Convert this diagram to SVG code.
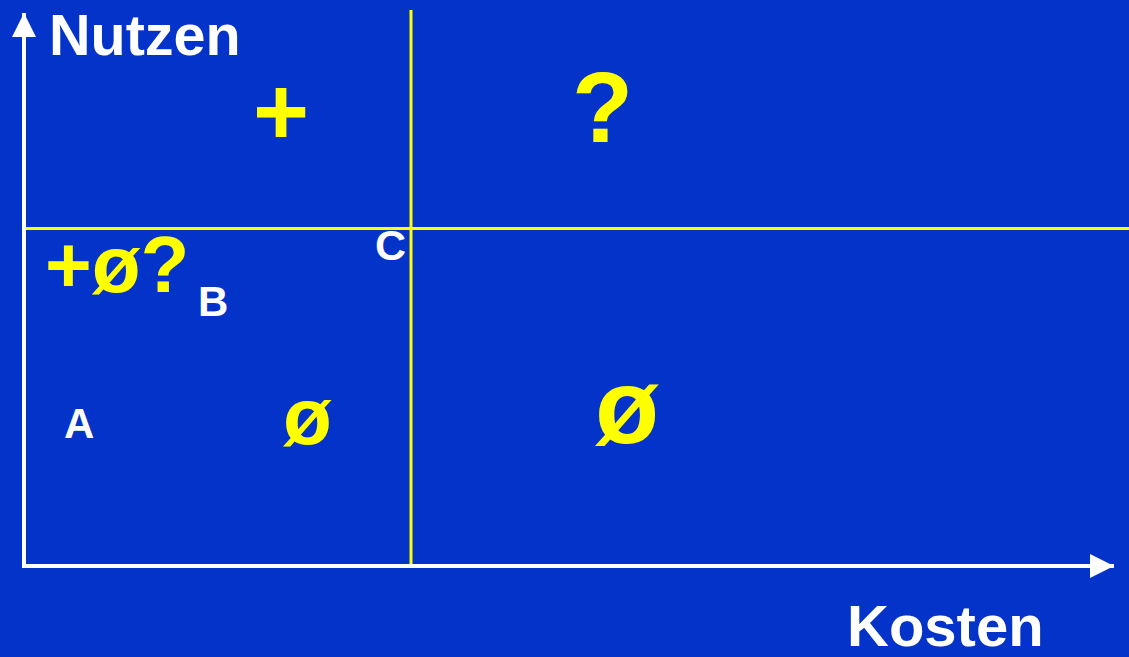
<svg xmlns="http://www.w3.org/2000/svg" width="1129" height="657" viewBox="0 0 1129 657">
<style>
.t{font-family:"Liberation Sans",Arial,sans-serif;font-weight:bold}
.w{fill:#ffffff}
.y{fill:#ffff00}
.ax{stroke:#ffffff;stroke-width:4;fill:none}
.gl{stroke:#ffff00;stroke-width:3;fill:none}
</style>
<defs>
<marker id="ah" viewBox="0 0 10 10" refX="10" refY="5" markerWidth="6" markerHeight="7" markerUnits="strokeWidth" orient="auto">
<path d="M0,0 L10,5 L0,10 Z" fill="#ffffff"/>
</marker>
</defs>
<rect width="1129" height="657" fill="#0433c9"/>
<g id="grid">
<line class="gl" x1="411" y1="10" x2="411" y2="566"/>
<line class="gl" x1="24" y1="228.5" x2="1129" y2="228.5"/>
</g>
<g id="connectors">
<path class="ax" d="M24,566 L24,13" marker-end="url(#ah)"/>
<path class="ax" d="M22,566 L1114,566" marker-end="url(#ah)"/>
</g>
<g id="axis-labels">
<text class="t w" x="49" y="55" font-size="57.5">Nutzen</text>
<text class="t w" x="847" y="646" font-size="58">Kosten</text>
</g>
<g id="points">
<text class="t w" x="64" y="438" font-size="42">A</text>
<text class="t w" x="198" y="316" font-size="42">B</text>
<text class="t w" x="375" y="260" font-size="43">C</text>
</g>
<g id="quadrants">
<text class="t y" x="253" y="145" font-size="96">+</text>
<text class="t y" x="572" y="142" font-size="100">?</text>
<text class="t y" x="45" y="292" font-size="80">+ø?</text>
<text class="t y" x="283" y="444" font-size="80">ø</text>
<text class="t y" x="595" y="443" font-size="105">ø</text>
</g>
</svg>
